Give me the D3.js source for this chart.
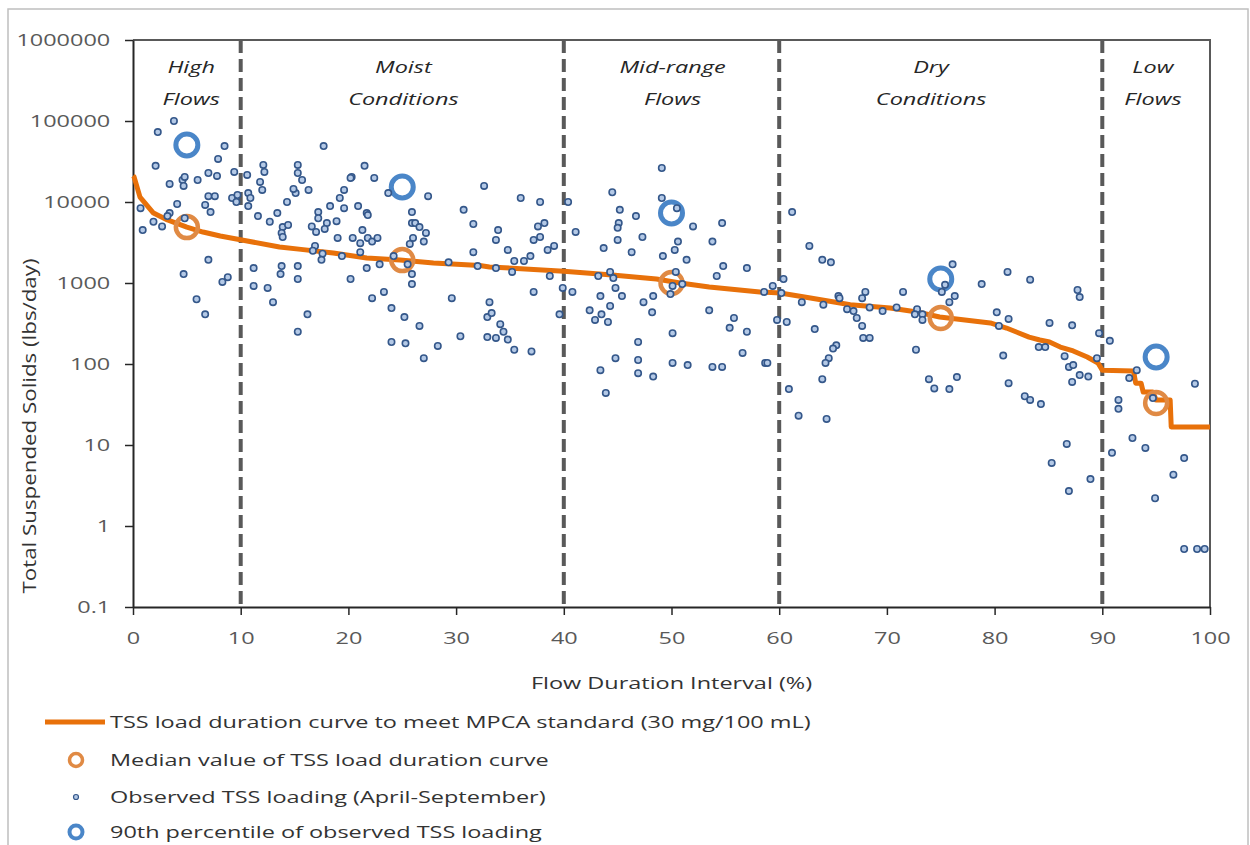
<!DOCTYPE html>
<html lang="en">
<head>
<meta charset="UTF-8">
<title>TSS Load Duration Curve</title>
<style>
    body { margin: 0; background: #fff; }
    text { font-family: "Open Sans", "Noto Sans", sans-serif; font-size: 17px; fill: #333; }
    .axis text { fill: #595959; }
    .zone text { font-style: italic; fill: #262626; }
</style>
</head>
<body>
<script src="https://d3js.org/d3.v7.min.js"></script>
<script>
// flow zone boundaries and labels
const zoneBreaks = [10, 40, 60, 90];
const zoneNames = [['High', 'Flows'], ['Moist', 'Conditions'], ['Mid-range', 'Flows'], ['Dry', 'Conditions'], ['Low', 'Flows']];
const zoneLabelAt = [5.4, 25.1, 50.1, 74.1, 94.7];

const xTicks = [0, 10, 20, 30, 40, 50, 60, 70, 80, 90, 100];
const yTicks = [0.1, 1, 10, 100, 1000, 10000, 100000, 1000000];

// TSS load duration curve (lbs/day)
const ldcFlow = [0, 0.1, 0.65, 1.9, 3.2, 5.0, 6.5, 8.1, 10.1, 13.6, 15.6, 18.6, 21.7, 24.8, 27.9, 32.2, 33.1,
    40.0, 44.5, 48.6, 50.8, 53.5, 58.2, 60.1, 62.9, 65.1, 66.6, 70.3, 72.8, 74.9, 79.6, 81.1, 83.2, 84.2, 85.1,
    86.1, 87.3, 88.6, 89.6, 90.0, 92.9, 93.1, 93.6, 93.8, 94.7, 95.0, 96.3, 96.4, 100];
const ldcLoad = [21000, 20400, 11500, 7300, 6000, 4900, 4260, 3800, 3400, 2780, 2600, 2340, 2040, 1920, 1770, 1640, 1580,
    1400, 1256, 1120, 1000, 893, 775, 753, 654, 583, 540, 491, 438, 380, 321, 278, 215, 198, 187,
    162, 145, 122, 103, 84, 82, 58, 58, 45, 45, 36, 36, 16.7, 16.7];

// median of the curve per zone
const medianFlow = [5, 25, 50, 75, 95];
const medianLoad = [4900, 1920, 1000, 370, 33];

// 90th percentile of observations per zone
const p90Flow = [5, 25, 50, 75, 95];
const p90Load = [50600, 15300, 7300, 1120, 122];

// observed TSS loading, April-September
const obsFlow = [3.8, 2.3, 8.5, 2.1, 7.9, 3.4, 4.6, 4.8, 4.7, 6.0, 7.0, 7.8, 9.4, 10.6, 12.1, 12.2, 11.8, 12.0, 15.3, 15.3,
    15.7, 15.1, 14.9, 14.3, 7.0, 7.6, 9.2, 9.7, 9.6, 10.7, 10.9, 10.7, 0.7, 4.1, 6.7, 7.2, 3.4, 3.2, 4.8, 1.9,
    2.7, 0.9, 11.6, 12.7, 13.4, 13.9, 14.4, 13.8, 13.9, 7.0, 4.7, 8.3, 8.8, 11.2, 11.2, 12.5, 13.0, 13.8, 13.7, 15.3,
    15.3, 5.9, 6.7, 15.3, 16.2, 16.3, 17.7, 21.5, 20.3, 20.2, 22.4, 19.6, 19.2, 23.7, 27.4, 18.3, 19.6, 20.9, 17.2, 17.2,
    21.7, 21.8, 18.9, 18.0, 17.8, 16.6, 17.0, 25.9, 25.9, 26.2, 26.6, 27.2, 26.0, 25.7, 27.0, 21.3, 19.0, 20.4, 21.1, 21.8,
    22.2, 22.7, 30.7, 31.6, 32.6, 16.9, 16.7, 17.6, 17.5, 19.4, 21.1, 24.2, 25.5, 22.9, 21.7, 25.9, 25.9, 29.3, 31.6, 32.0,
    20.2, 22.2, 23.3, 24.0, 25.2, 26.6, 29.6, 30.4, 24.0, 25.3, 28.3, 27.0, 32.9, 32.9, 33.1, 36.0, 37.8, 40.4, 33.9, 33.7,
    37.6, 38.2, 37.8, 37.2, 41.1, 34.8, 39.1, 38.5, 36.9, 36.3, 35.4, 33.7, 35.2, 38.7, 37.2, 39.9, 40.8, 39.6, 33.3, 34.1,
    34.4, 33.7, 34.8, 35.4, 37.0, 44.5, 45.2, 46.7, 45.1, 45.0, 47.3, 45.0, 43.7, 46.3, 49.1, 49.1, 49.2, 44.3, 44.6, 43.2,
    44.8, 45.4, 43.4, 44.3, 42.4, 43.5, 42.9, 44.1, 47.4, 48.3, 48.2, 46.9, 44.8, 46.9, 46.9, 48.3, 43.4, 43.9, 50.5, 52.0,
    54.7, 50.6, 50.3, 53.8, 51.4, 54.8, 57.0, 54.2, 50.4, 50.1, 51.0, 49.9, 53.5, 55.8, 55.4, 57.0, 50.1, 56.6, 50.1, 51.5,
    53.8, 54.7, 58.7, 58.9, 61.2, 59.4, 60.4, 60.2, 58.6, 59.8, 60.7, 60.9, 61.8, 62.8, 64.0, 64.8, 62.1, 64.1, 65.5, 66.3,
    63.3, 65.3, 65.0, 64.6, 64.3, 64.0, 64.4, 76.1, 75.4, 75.1, 76.3, 75.8, 78.8, 81.2, 83.3, 68.0, 67.7, 71.5, 65.6, 66.9,
    67.2, 68.4, 69.6, 70.9, 72.8, 72.6, 73.3, 73.3, 67.7, 67.8, 68.4, 72.7, 80.2, 81.3, 80.4, 80.8, 73.9, 74.4, 75.8, 76.5,
    81.3, 82.8, 87.7, 87.9, 85.1, 87.2, 89.7, 90.7, 84.1, 84.7, 86.5, 86.9, 87.3, 87.9, 88.7, 87.2, 89.5, 93.2, 92.5, 98.6,
    91.5, 91.5, 84.3, 83.3, 86.7, 85.3, 88.9, 86.9, 90.9, 92.8, 94.0, 97.6, 96.6, 94.9, 97.6, 98.8, 99.5, 94.7];
const obsLoad = [100000, 73000, 49000, 28000, 34000, 16700, 18700, 20400, 15800, 18700, 22800, 21000, 23500, 21600, 28700, 23500, 17700, 14100, 28700, 22800,
    18700, 12900, 14500, 10000, 11800, 11800, 11200, 12200, 10000, 12900, 11200, 8900, 8400, 9450, 9200, 7500, 7300, 6700, 6300, 5700,
    5000, 4500, 6700, 5700, 7300, 4900, 5200, 4150, 3700, 1930, 1290, 1030, 1180, 1530, 920, 870, 580, 1620, 1290, 1620,
    1120, 630, 410, 250, 410, 14100, 49000, 28000, 20400, 19800, 19800, 14100, 11200, 12900, 11800, 8900, 8400, 8900, 7500, 6300,
    7300, 6900, 5800, 5500, 4650, 5000, 4270, 7500, 5500, 5500, 4900, 4150, 3600, 3040, 3250, 4500, 3600, 3600, 3100, 3600,
    3250, 3600, 8000, 5350, 15800, 2870, 2500, 2300, 1930, 2150, 2400, 2150, 1700, 1700, 1530, 1290, 970, 1800, 2400, 1620,
    1120, 650, 775, 490, 380, 295, 650, 220, 187, 180, 167, 118, 380, 215, 580, 11200, 10000, 10000, 4500, 3400,
    5000, 5500, 3700, 3400, 4270, 2560, 2870, 2560, 2150, 1870, 1870, 1530, 1370, 1220, 775, 870, 775, 410, 425, 310,
    250, 210, 200, 150, 143, 13200, 8000, 6700, 5500, 4800, 3700, 3400, 2700, 2400, 26300, 11200, 2150, 1370, 1150, 1220,
    870, 690, 690, 520, 460, 410, 350, 330, 580, 690, 435, 187, 118, 112, 77, 70, 84, 44, 8400, 5000,
    5500, 3250, 2560, 3250, 1930, 1620, 1530, 1220, 1370, 920, 970, 730, 460, 370, 280, 250, 240, 137, 103, 97,
    92, 92, 103, 103, 7500, 920, 1120, 750, 775, 350, 330, 49, 23, 2870, 1930, 1800, 580, 540, 690, 475,
    270, 170, 155, 118, 103, 65, 21, 1700, 950, 775, 690, 580, 970, 1370, 1100, 775, 650, 775, 650, 450,
    370, 500, 450, 500, 475, 410, 410, 350, 295, 210, 210, 150, 435, 360, 295, 127, 65, 50, 49, 69,
    58, 40, 820, 670, 321, 300, 240, 193, 162, 162, 125, 92, 97, 73, 70, 60, 118, 84, 67, 57,
    36, 28, 32, 36, 10.3, 6.0, 3.8, 2.7, 8.0, 12.2, 9.2, 6.9, 4.3, 2.2, 0.52, 0.52, 0.52, 38];

const legendItems = [
    'TSS load duration curve to meet MPCA standard (30 mg/100 mL)',
    'Median value of TSS load duration curve',
    'Observed TSS loading (April-September)',
    '90th percentile of observed TSS loading'
];

// the reference lettering is wider than it is tall
const SX = 1.38;

const width = 1250;
const height = 845;
const margin = { top: 40, right: 40, bottom: 238, left: 133 };

const svg = d3.select('body').append('svg')
    .attr('width', width)
    .attr('height', height);

// chart area outline
svg.append('rect')
    .attr('x', 8).attr('y', 9)
    .attr('width', width - 10).attr('height', height)
    .attr('fill', 'none')
    .attr('stroke', '#bfbfbf')
    .attr('stroke-width', 1.5);

const xScale = d3.scaleLinear()
    .domain([0, 100])
    .range([margin.left, width - margin.right]);

const yScale = d3.scaleLog()
    .domain([0.1, 1000000])
    .range([height - margin.bottom, margin.top]);

const [x0, x1] = xScale.range();
const [y0, y1] = yScale.range();

// top and right frame
svg.append('path')
    .attr('d', `M${x0},${y1}H${x1}V${y0}`)
    .attr('fill', 'none')
    .attr('stroke', '#595959')
    .attr('stroke-width', 2);

// flow zone dividers
svg.append('g')
    .selectAll('line')
    .data(zoneBreaks)
    .join('line')
    .attr('x1', (d) => xScale(d)).attr('x2', (d) => xScale(d))
    .attr('y1', y1).attr('y2', y0)
    .attr('stroke', '#595959')
    .attr('stroke-width', 4)
    .attr('stroke-dasharray', '13,6');

// axes
const xAxis = svg.append('g')
    .attr('class', 'axis')
    .attr('transform', `translate(0,${y0})`)
    .call(d3.axisBottom(xScale).tickValues(xTicks).tickSize(8).tickPadding(17).tickSizeOuter(0));

const yAxis = svg.append('g')
    .attr('class', 'axis')
    .attr('transform', `translate(${x0},0)`)
    .call(d3.axisLeft(yScale).tickValues(yTicks).tickSize(8).tickPadding(8.5).tickSizeOuter(0)
        .tickFormat((d) => (d >= 1 ? d3.format('d')(d) : String(d))));

svg.selectAll('.axis .domain').attr('stroke', '#262626').attr('stroke-width', 2);
svg.selectAll('.axis .tick line').attr('stroke', '#262626').attr('stroke-width', 1.5);
svg.selectAll('.axis text').style('font-size', '17px').style('font-family', null)
    .attr('transform', `scale(${SX},1)`);

// stretched text helper
function label(parent, x, y, str) {
    return parent.append('text')
        .attr('transform', `translate(${x},${y}) scale(${SX},1)`)
        .attr('dy', '0.35em')
        .text(str);
}

// axis titles
label(svg, xScale(50), 683, 'Flow Duration Interval (%)').attr('text-anchor', 'middle');

svg.append('text')
    .attr('transform', `translate(30,426) rotate(-90) scale(1.24,1)`)
    .attr('text-anchor', 'middle')
    .attr('dy', '0.35em')
    .style('font-size', '18px')
    .attr('fill', '#404040')
    .text('Total Suspended Solids (lbs/day)');

// zone names
const zones = svg.append('g').attr('class', 'zone');
zoneNames.forEach((lines, i) => {
    lines.forEach((t, j) => {
        label(zones, xScale(zoneLabelAt[i]), 67 + j * 32, t).attr('text-anchor', 'middle');
    });
});

// load duration curve
const ldcLine = d3.line()
    .x((d) => xScale(d[0]))
    .y((d) => yScale(d[1]));

svg.append('path')
    .datum(d3.zip(ldcFlow, ldcLoad))
    .attr('d', ldcLine)
    .attr('fill', 'none')
    .attr('stroke', '#E8710A')
    .attr('stroke-width', 5)
    .attr('stroke-linejoin', 'round');

// medians
svg.append('g')
    .selectAll('circle')
    .data(d3.zip(medianFlow, medianLoad))
    .join('circle')
    .attr('cx', (d) => xScale(d[0]))
    .attr('cy', (d) => yScale(d[1]))
    .attr('r', 11)
    .attr('fill', 'none')
    .attr('stroke', '#E08A44')
    .attr('stroke-width', 4.5);

// 90th percentiles
svg.append('g')
    .selectAll('circle')
    .data(d3.zip(p90Flow, p90Load))
    .join('circle')
    .attr('cx', (d) => xScale(d[0]))
    .attr('cy', (d) => yScale(d[1]))
    .attr('r', 11)
    .attr('fill', 'none')
    .attr('stroke', '#4A86C8')
    .attr('stroke-width', 5);

// observations
svg.append('g')
    .selectAll('circle')
    .data(d3.zip(obsFlow, obsLoad))
    .join('circle')
    .attr('cx', (d) => xScale(d[0]))
    .attr('cy', (d) => yScale(d[1]))
    .attr('r', 3.2)
    .attr('fill', '#B4C9E6')
    .attr('stroke', '#34578A')
    .attr('stroke-width', 1.6);

// legend
const legend = svg.append('g').attr('transform', 'translate(45,722)');
const rowY = [0, 38, 75, 110];

legend.append('line')
    .attr('x1', 0).attr('x2', 60)
    .attr('y1', rowY[0]).attr('y2', rowY[0])
    .attr('stroke', '#E8710A')
    .attr('stroke-width', 5);

legend.append('circle')
    .attr('cx', 31).attr('cy', rowY[1]).attr('r', 6.5)
    .attr('fill', 'none').attr('stroke', '#E08A44').attr('stroke-width', 3.5);

legend.append('circle')
    .attr('cx', 31).attr('cy', rowY[2]).attr('r', 2.5)
    .attr('fill', '#B4C9E6').attr('stroke', '#34578A').attr('stroke-width', 1.2);

legend.append('circle')
    .attr('cx', 31).attr('cy', rowY[3]).attr('r', 6.5)
    .attr('fill', 'none').attr('stroke', '#4A86C8').attr('stroke-width', 4);

legendItems.forEach((t, i) => {
    label(legend, 65, rowY[i], t);
});
</script>
</body>
</html>
